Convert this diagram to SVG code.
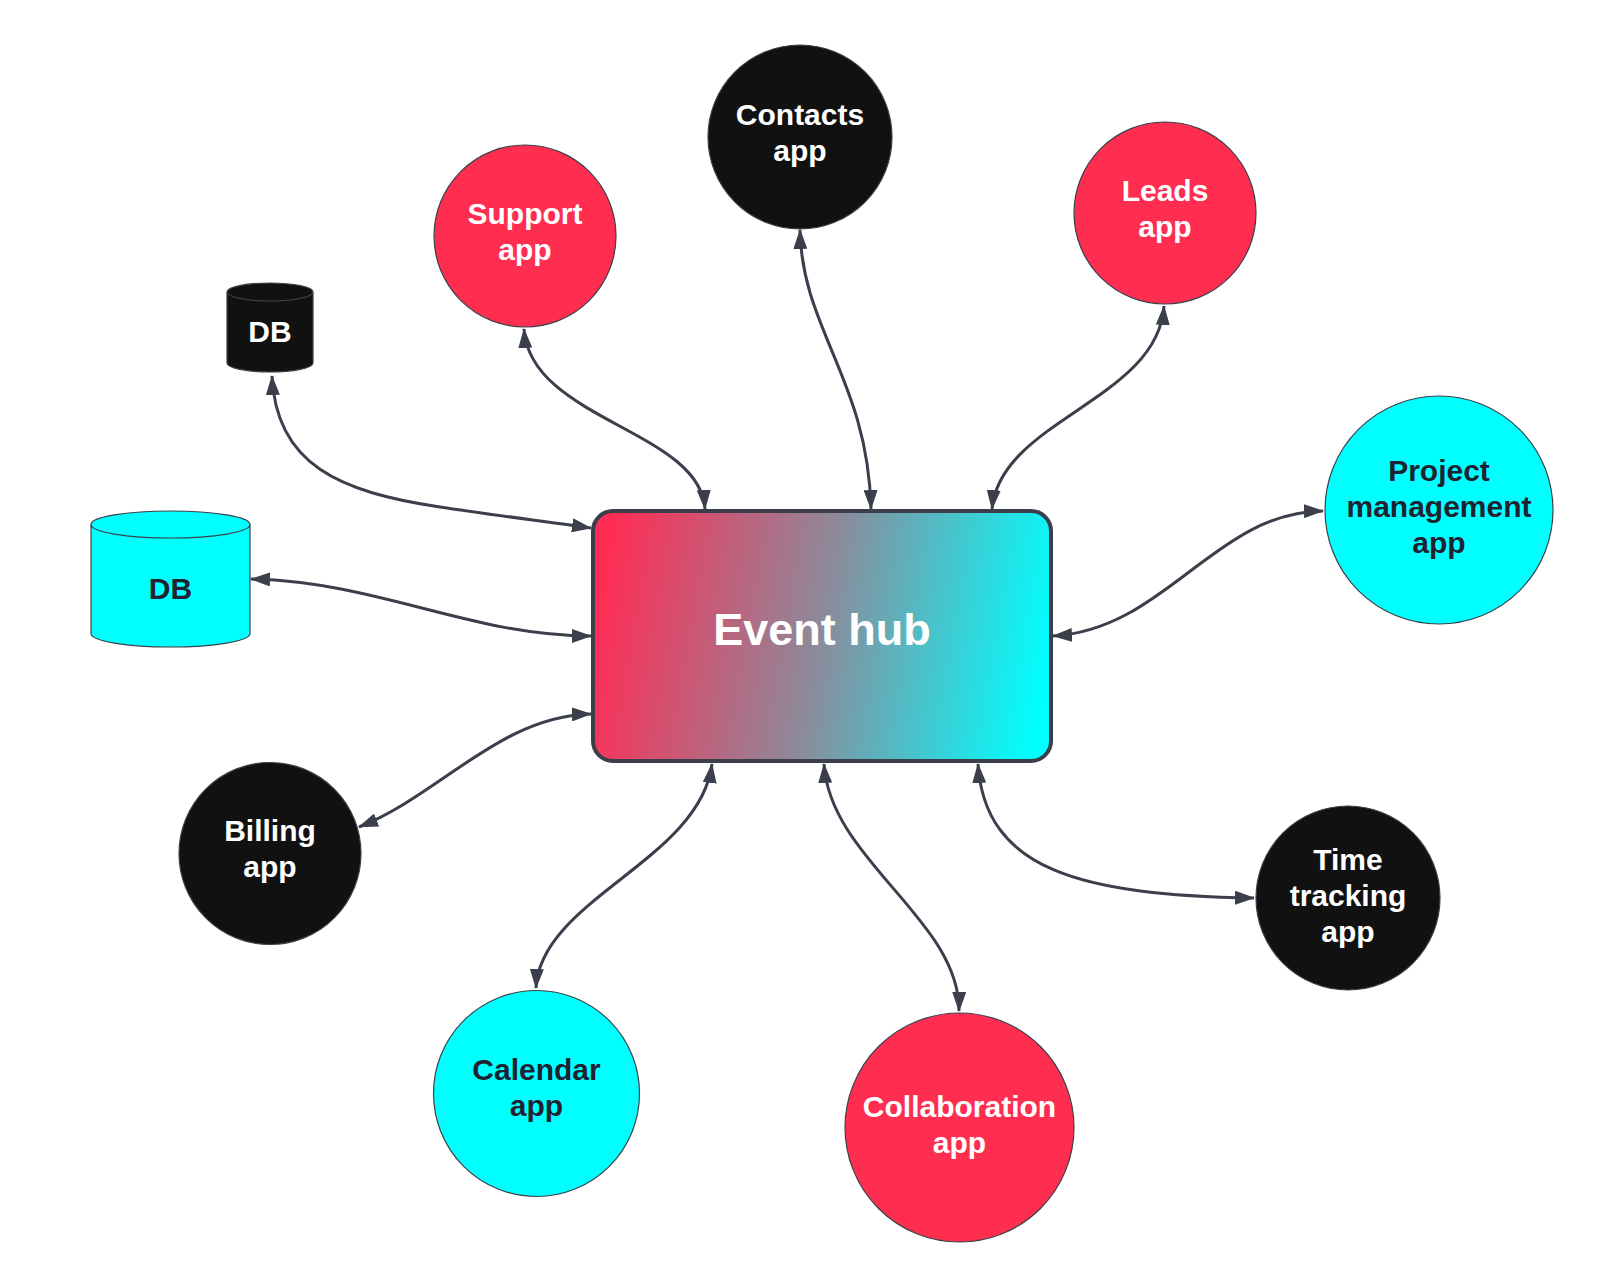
<svg xmlns="http://www.w3.org/2000/svg" width="1600" height="1288" viewBox="0 0 1600 1288">
  <style>
    .conn { fill: none; stroke: #3a3f4b; stroke-width: 3; marker-start: url(#arrow); marker-end: url(#arrow); }
    .node { stroke: #3a414a; stroke-width: 1.2; }
    .red { fill: #ff2d50; }
    .black { fill: #111111; }
    .cyan { fill: #00ffff; }
    .lbl { font-family: "Liberation Sans", Arial, sans-serif; font-weight: bold; font-size: 30px; text-anchor: middle; }
    .w { fill: #ffffff; }
    .d { fill: #1f2230; }
  </style>
  <defs>
    <marker id="arrow" viewBox="0 0 20 14" refX="19" refY="7" markerWidth="20" markerHeight="14" markerUnits="userSpaceOnUse" orient="auto-start-reverse">
      <path d="M0,0 L20,7 L0,14 Z" fill="#3a3f4b"/>
    </marker>
    <linearGradient id="hubGrad" gradientUnits="userSpaceOnUse" x1="600" y1="600" x2="1045" y2="680">
      <stop offset="0" stop-color="#ff2d55"/>
      <stop offset="0.5" stop-color="#8a8c9c"/>
      <stop offset="1" stop-color="#00ffff"/>
    </linearGradient>
  </defs>
  <rect width="1600" height="1288" fill="#ffffff"/>

  <g id="connectors">
    <path class="conn" d="M272,376 C276,465 340,492 440,507 C500,516 550,522 591,528"/>
    <path class="conn" d="M251,579 C380,582 470,636 591,636"/>
    <path class="conn" d="M359,827 C440,795 500,716 591,714"/>
    <path class="conn" d="M712,764 C700,860 540,900 536,988"/>
    <path class="conn" d="M824,764 C830,860 960,920 959,1011"/>
    <path class="conn" d="M978,764 C985,870 1080,895 1254,898"/>
    <path class="conn" d="M1053,636 C1165,630 1215,512 1323,511"/>
    <path class="conn" d="M1164,306 C1158,400 1000,420 992,509"/>
    <path class="conn" d="M800,230 C802,330 868,380 871,509"/>
    <path class="conn" d="M524,329 C530,420 700,430 705,509"/>
  </g>

  <g id="event-hub">
    <rect x="593" y="511" width="458" height="250" rx="20" ry="20" fill="url(#hubGrad)" stroke="#3a3f4b" stroke-width="4"/>
    <text x="822" y="645" font-family="Liberation Sans, Arial, sans-serif" font-weight="bold" font-size="45" text-anchor="middle" fill="#ffffff">Event hub</text>
  </g>

  <g id="support-app">
    <circle class="node red" cx="525" cy="236" r="91"/>
    <text class="lbl w" x="525" y="224">Support</text>
    <text class="lbl w" x="525" y="260">app</text>
  </g>

  <g id="contacts-app">
    <circle class="node black" cx="800" cy="137" r="92"/>
    <text class="lbl w" x="800" y="125">Contacts</text>
    <text class="lbl w" x="800" y="161">app</text>
  </g>

  <g id="leads-app">
    <circle class="node red" cx="1165" cy="213" r="91"/>
    <text class="lbl w" x="1165" y="201">Leads</text>
    <text class="lbl w" x="1165" y="237">app</text>
  </g>

  <g id="project-management-app">
    <circle class="node cyan" cx="1439" cy="510" r="114"/>
    <text class="lbl d" x="1439" y="481">Project</text>
    <text class="lbl d" x="1439" y="517">management</text>
    <text class="lbl d" x="1439" y="553">app</text>
  </g>

  <g id="time-tracking-app">
    <circle class="node black" cx="1348" cy="898" r="92"/>
    <text class="lbl w" x="1348" y="870">Time</text>
    <text class="lbl w" x="1348" y="906">tracking</text>
    <text class="lbl w" x="1348" y="942">app</text>
  </g>

  <g id="collaboration-app">
    <circle class="node red" cx="959.5" cy="1127.5" r="114.5"/>
    <text class="lbl w" x="959.5" y="1117">Collaboration</text>
    <text class="lbl w" x="959.5" y="1153">app</text>
  </g>

  <g id="calendar-app">
    <circle class="node cyan" cx="536.5" cy="1093.5" r="103"/>
    <text class="lbl d" x="536.5" y="1080">Calendar</text>
    <text class="lbl d" x="536.5" y="1116">app</text>
  </g>

  <g id="billing-app">
    <circle class="node black" cx="270" cy="853.5" r="91"/>
    <text class="lbl w" x="270" y="841">Billing</text>
    <text class="lbl w" x="270" y="877">app</text>
  </g>

  <g id="db-black">
    <path class="node black" d="M227,292 A43,9 0 0 1 313,292 L313,363 A43,9 0 0 1 227,363 Z"/>
    <path d="M227,292 A43,9 0 0 0 313,292" fill="none" stroke="#3a414a" stroke-width="1.2"/>
    <text class="lbl w" x="270" y="342">DB</text>
  </g>

  <g id="db-cyan">
    <path class="node cyan" d="M91,524.5 A79.5,13.5 0 0 1 250,524.5 L250,633.5 A79.5,13.5 0 0 1 91,633.5 Z"/>
    <path d="M91,524.5 A79.5,13.5 0 0 0 250,524.5" fill="none" stroke="#3a414a" stroke-width="1.2"/>
    <text class="lbl d" x="170.5" y="599">DB</text>
  </g>
</svg>
